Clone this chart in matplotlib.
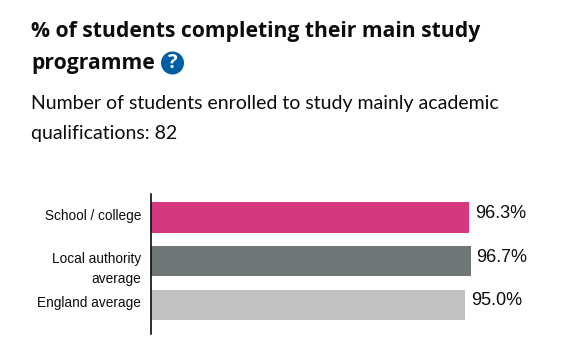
import matplotlib
matplotlib.use('Agg')
import matplotlib.pyplot as plt
from matplotlib.patches import Circle

W, H = 570, 356

categories = ['School / college', 'Local authority\naverage', 'England average']
values = [96.3, 96.7, 95.0]
value_labels = ['96.3%', '96.7%', '95.0%']
colours = ['#d63880', '#6f7779', '#bfc1c3']

title_lines = ['% of students completing their main study', 'programme']
subtitle_lines = ['Number of students enrolled to study mainly academic', 'qualifications: 82']

PX = 0.72  # px to pt at dpi 100


def main():
    fig = plt.figure(figsize=(W / 100, H / 100), dpi=100)

    # overlay in pixel coords for the header text
    bg = fig.add_axes([0, 0, 1, 1])
    bg.set_xlim(0, W)
    bg.set_ylim(H, 0)
    bg.axis('off')

    bg.text(31, 32, title_lines[0], fontsize=21.1 * PX, fontweight='bold',
            family='Open Sans', color='#0b0c0c', va='center')
    bg.text(31, 63.5, title_lines[1], fontsize=21.1 * PX, fontweight='bold',
            family='Open Sans', color='#0b0c0c', va='center')
    bg.text(31, 103.5, subtitle_lines[0], fontsize=19.45 * PX,
            family='Lato', color='#0b0c0c', va='center')
    bg.text(31, 133.5, subtitle_lines[1], fontsize=19.45 * PX,
            family='Lato', color='#0b0c0c', va='center')

    bg.add_patch(Circle((172.5, 63), 11.5, color='#005ea5', lw=0))
    bg.text(172.5, 63.5, '?', fontsize=20 * PX, fontweight='bold', color='white',
            family='Open Sans', ha='center', va='center')

    # chart: left edge at x=150.5, top 194, bottom 334
    ax = fig.add_axes([150.5 / W, 1 - 334 / H, 331 / W, 140 / H])
    ax.patch.set_alpha(0)
    y = range(len(categories))
    ax.barh(y, values, height=0.686, color=colours)
    ax.set_xlim(0, 100)
    ax.set_ylim(2.663, -0.537)

    for s in ['top', 'right', 'bottom']:
        ax.spines[s].set_visible(False)
    ax.spines['left'].set_linewidth(1.2)
    ax.spines['left'].set_color('#0b0c0c')
    ax.set_xticks([])
    ax.set_yticks([])

    label_shift = [1.5, -8, 2]
    for i, cat in enumerate(categories):
        ax.annotate(cat, xy=(0, i), xycoords=('axes fraction', 'data'),
                    xytext=(-9.5 * PX, label_shift[i] * PX), textcoords='offset points',
                    ha='right', va='center', fontsize=13.6 * PX, family='Liberation Sans',
                    color='#0b0c0c', linespacing=1.5)

    for i, v in enumerate(values):
        ax.annotate(value_labels[i], xy=(v, i), xytext=(6 * PX, 4 * PX),
                    textcoords='offset points', ha='left', va='center',
                    fontsize=18 * PX, family='Liberation Sans', color='#0b0c0c')

    fig.savefig('out.png', dpi=100)


if __name__ == '__main__':
    main()
